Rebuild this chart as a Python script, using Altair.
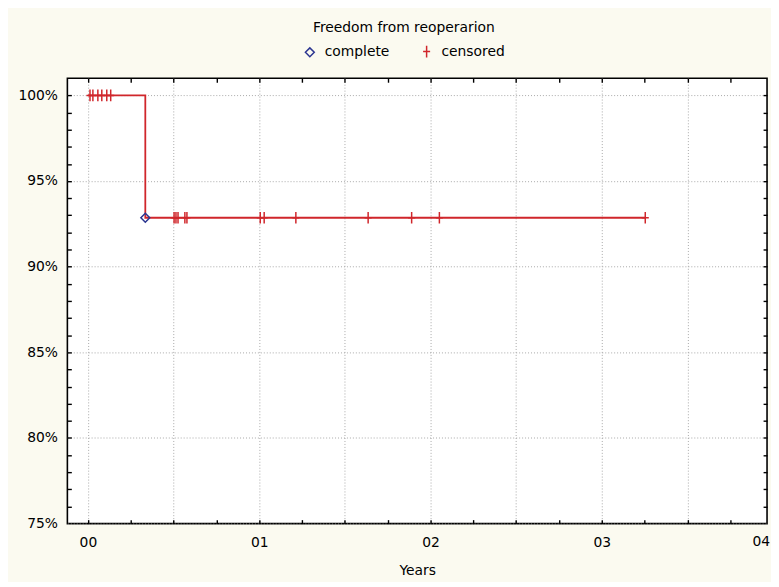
import altair as alt
import pandas as pd

# Kaplan-Meier step (years, survival %)
step_years = [0.0, 0.335, 3.254]
step_surv = [100.0, 92.857, 92.857]

# events
complete_years = [0.335]
complete_surv = [92.857]

# censored observations
censored_years = [0.012, 0.029, 0.058, 0.081, 0.110, 0.133,
                  0.503, 0.514, 0.526, 0.566, 0.578,
                  1.006, 1.029, 1.214, 1.636, 1.890, 2.052, 3.254]
censored_surv = [100.0] * 6 + [92.857] * 12

x_grid = [0, 0.5, 1, 1.5, 2, 2.5, 3, 3.5]
x_minor = [0, 0.25, 0.5, 0.75, 1, 1.25, 1.5, 1.75, 2, 2.25, 2.5, 2.75, 3, 3.25, 3.5, 3.75]
y_ticks = [75, 80, 85, 90, 95, 100]
y_minor = list(range(76, 101))
extra_label_year = [4]
extra_label_text = ["04"]

FONT = "DejaVu Sans"
RED = "#D0262B"
BLUE = "#2B3590"

step_df = pd.DataFrame({"t": step_years, "s": step_surv})
pts_df = pd.DataFrame({
    "t": complete_years + censored_years,
    "s": complete_surv + censored_surv,
    "status": ["complete"] * len(complete_years) + ["censored"] * len(censored_years),
})
lab_df = pd.DataFrame({"t": extra_label_year, "label": extra_label_text, "s": [75]})

xscale = alt.Scale(domain=[-0.12, 3.965], nice=False, zero=False)
yscale = alt.Scale(domain=[75, 101], nice=False, zero=False)


def tick_axis(orient, values):
    return alt.Axis(orient=orient, values=values, title=None, labels=False, grid=False,
                    domain=False, ticks=True, tickSize=4, offset=-4, tickWidth=1.4,
                    tickColor="black")


line = alt.Chart(step_df).mark_line(interpolate="step-after", color=RED, strokeWidth=1.8).encode(
    x=alt.X("t:Q", scale=xscale,
            axis=alt.Axis(orient="bottom", values=x_grid, title="Years", grid=True, domain=False,
                          ticks=False,
                          labelExpr="datum.value % 1 == 0 ? '0' + datum.value : ''",
                          labelPadding=12, titlePadding=14, labelFlush=False)),
    y=alt.Y("s:Q", scale=yscale,
            axis=alt.Axis(orient="left", values=y_ticks, title=None, grid=True, domain=False,
                          ticks=False, labelExpr="datum.value + '%'", labelPadding=10)),
)

cross = "M-0.6,0L0.6,0M0,-1L0,1"
points = alt.Chart(pts_df).mark_point(strokeWidth=1.5, opacity=1).encode(
    x=alt.X("t:Q", scale=xscale, axis=tick_axis("bottom", x_minor)),
    y=alt.Y("s:Q", scale=yscale, axis=tick_axis("left", y_minor)),
    color=alt.Color("status:N",
                    scale=alt.Scale(domain=["complete", "censored"], range=[BLUE, RED]),
                    legend=alt.Legend(title="Freedom from reoperarion", orient="none",
                                      legendX=238, legendY=-58, direction="horizontal",
                                      titleOrient="top", titleAnchor="middle", titleLimit=400,
                                      titleFontWeight="normal", titleFontSize=14, labelFontSize=14,
                                      titleFont=FONT, labelFont=FONT, columnPadding=30,
                                      titlePadding=10, labelOffset=8, labelLimit=200)),
    shape=alt.Shape("status:N",
                    scale=alt.Scale(domain=["complete", "censored"], range=["diamond", cross])),
    size=alt.Size("status:N",
                  scale=alt.Scale(domain=["complete", "censored"], range=[80, 140])),
)

label04 = alt.Chart(lab_df).mark_text(font=FONT, fontSize=14, baseline="top", dy=12, dx=-3,
                                      align="right", color="black").encode(
    x=alt.X("t:Q", scale=xscale, axis=tick_axis("top", x_minor)),
    y=alt.Y("s:Q", scale=yscale, axis=tick_axis("right", y_minor)),
    text="label:N",
)

chart = alt.layer(line, points, label04).resolve_axis(
    x="independent", y="independent"
).properties(
    width=707, height=450,
    padding={"left": 60, "top": 68, "right": 4, "bottom": 56},
    autosize=alt.AutoSizeParams(type="none"),
    background="#FBFAF0",
).configure_view(
    fill="white", stroke="black", strokeWidth=1.6
).configure_axis(
    labelFont=FONT, labelFontSize=14, labelColor="black",
    titleFont=FONT, titleFontSize=14, titleFontWeight="normal", titleColor="black",
    gridColor="#A8A8A8", gridDash=[1, 2], gridWidth=1
)

chart.save("out.html", embed_options={"renderer": "svg", "actions": False})
